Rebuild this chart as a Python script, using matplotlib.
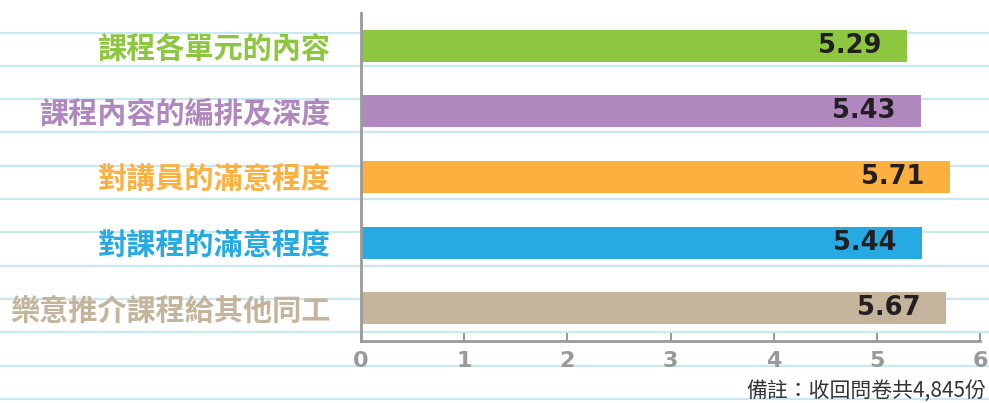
import matplotlib.pyplot as plt
import numpy as np
from matplotlib.lines import Line2D

plt.rcParams['font.family'] = ['Noto Sans CJK TC', 'DejaVu Sans']

labels = ['課程各單元的內容', '課程內容的編排及深度', '對講員的滿意程度', '對課程的滿意程度', '樂意推介課程給其他同工']
values = [5.29, 5.43, 5.71, 5.44, 5.67]
colors = ['#8dc63f', '#b088bf', '#fbb040', '#27aae1', '#c4b49b']
xticks = [0, 1, 2, 3, 4, 5, 6]
note = '備註：收回問卷共4,845份'

W, H = 989, 403
fig = plt.figure(figsize=(W / 100, H / 100), dpi=100)

# notebook lines in the background
for yp in np.arange(32.5, H, 33.33):
    fig.add_artist(Line2D([0, 1], [1 - yp / H, 1 - yp / H], color='#c9e9ef', lw=1.6, zorder=0))

ax = fig.add_axes([361 / W, (H - 341) / H, (980 - 361) / W, (341 - 13) / H])
ax.set_facecolor('none')
ax.set_zorder(1)

y = np.arange(len(labels))
ax.barh(y, values, height=0.49, color=colors, zorder=2)
for i, v in enumerate(values):
    ax.text(v - 0.25, i, f'{v:.2f}', ha='right', va='center', fontsize=18.5,
            fontweight='bold', color='#231f20', family='DejaVu Sans', zorder=3)

ax.set_ylim(4.5, -0.5)
ax.set_xlim(0, 6)
ax.set_yticks(y)
ax.set_yticklabels(labels, fontsize=21, fontweight='bold')
for t, c in zip(ax.get_yticklabels(), colors):
    t.set_color(c)
ax.tick_params(axis='y', length=0, pad=22)
ax.set_xticks(xticks)
ax.set_xticklabels([str(t) for t in xticks], fontsize=16, fontweight='bold', color='#999999',
                   family='DejaVu Sans')
ax.tick_params(axis='x', direction='in', length=6, width=1.5, color='#9a9a9a', pad=7)

for s in ['top', 'right']:
    ax.spines[s].set_visible(False)
for s in ['left', 'bottom']:
    ax.spines[s].set_color('#9a9a9a')
    ax.spines[s].set_linewidth(2)

fig.text(986 / W, 1 - 391 / H, note, ha='right', va='center', fontsize=15, color='#333333')

fig.savefig('out.png', dpi=100)
